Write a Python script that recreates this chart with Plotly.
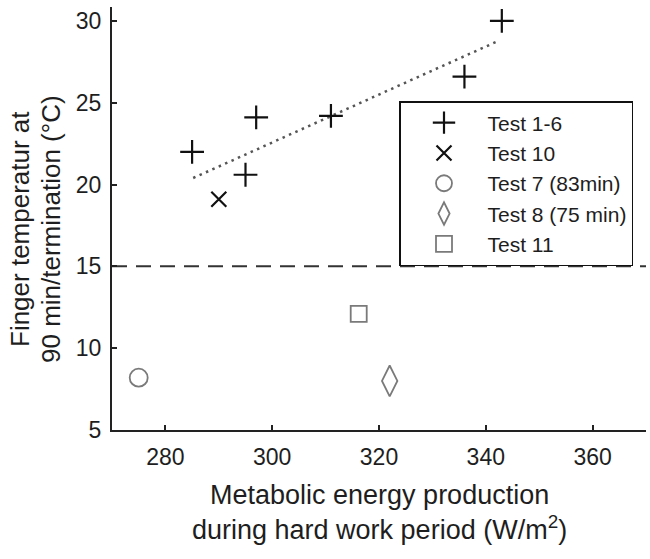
import plotly.graph_objects as go

# ---- data ----
test16_x = [285, 295, 297, 311, 336, 343]
test16_y = [22.0, 20.6, 24.1, 24.2, 26.6, 30.0]
test10_x = [290]
test10_y = [19.1]
test7_x = [275]
test7_y = [8.2]
test8_x = [322]
test8_y = [8.0]
test11_x = [316.2]
test11_y = [12.1]
trend_x = [285.2, 342.5]
trend_y = [20.4, 28.8]
threshold_y = 15
x_range = [270, 370]
y_range = [5, 30.85]
x_ticks = [280, 300, 320, 340, 360]
y_ticks = [5, 10, 15, 20, 25, 30]
x_title_lines = ["Metabolic energy production", "during hard work period (W/m<sup>2</sup>)"]
y_title_lines = ["Finger temperatur at", "90 min/termination (°C)"]

FONT = "Liberation Sans, Arial, sans-serif"
BLACK = "#111111"
GRAY = "#7a7a7a"
TXT = "#1e1e1e"

fig = go.Figure()

fig.add_trace(go.Scatter(x=trend_x, y=trend_y, mode="lines",
                         line=dict(color="#555555", width=2.5, dash="2.5px,4.5px"),
                         showlegend=False, hoverinfo="skip"))
fig.add_trace(go.Scatter(x=x_range, y=[threshold_y, threshold_y], mode="lines",
                         line=dict(color="#333333", width=2, dash="15px,9px"),
                         showlegend=False, hoverinfo="skip"))

fig.add_trace(go.Scatter(x=test16_x, y=test16_y, mode="markers", name="Test 1-6",
                         marker=dict(symbol="cross-thin-open", size=17, color=BLACK,
                                     line=dict(color=BLACK, width=2.2))))
fig.add_trace(go.Scatter(x=test10_x, y=test10_y, mode="markers", name="Test 10",
                         marker=dict(symbol="x-thin-open", size=15, color=BLACK,
                                     line=dict(color=BLACK, width=2.2))))
fig.add_trace(go.Scatter(x=test7_x, y=test7_y, mode="markers", name="Test 7 (83min)",
                         marker=dict(symbol="circle-open", size=18, color=GRAY,
                                     line=dict(color=GRAY, width=1.8))))
fig.add_trace(go.Scatter(x=test8_x, y=test8_y, mode="markers", name="Test 8 (75 min)",
                         marker=dict(symbol="diamond-tall-open", size=22, color=GRAY,
                                     line=dict(color=GRAY, width=1.8))))
fig.add_trace(go.Scatter(x=test11_x, y=test11_y, mode="markers", name="Test 11",
                         marker=dict(symbol="square-open", size=16, color=GRAY,
                                     line=dict(color=GRAY, width=1.8))))

axis_common = dict(showgrid=False, zeroline=False, showline=True, linecolor="#222222",
                   linewidth=2, ticks="inside", ticklen=5, tickwidth=1.5,
                   tickcolor="#222222", mirror=False, automargin=False,
                   tickfont=dict(family=FONT, size=23, color=TXT))

fig.update_xaxes(range=x_range, tickvals=x_ticks, ticklabelstandoff=5, **axis_common)
fig.update_yaxes(range=y_range, tickvals=y_ticks, ticklabelstandoff=4, **axis_common)

PLOT_L, PLOT_R, PLOT_T, PLOT_B = 112, 646, 7, 430
PW, PH = PLOT_R - PLOT_L, PLOT_B - PLOT_T


def px_x(px):
    return (px - PLOT_L) / PW


def px_y(py):
    return (PLOT_B - py) / PH


annotations = []
for text, cy in zip(x_title_lines, [495, 528]):
    annotations.append(dict(text=text, xref="paper", yref="paper", x=0.5, y=px_y(cy),
                            xanchor="center", yanchor="middle", showarrow=False,
                            font=dict(family=FONT, size=27, color=TXT)))
for text, cx in zip(y_title_lines, [20, 51]):
    annotations.append(dict(text=text, xref="paper", yref="paper", x=px_x(cx), y=px_y(229),
                            xanchor="center", yanchor="middle", showarrow=False, textangle=-90,
                            font=dict(family=FONT, size=26, color=TXT)))

fig.update_layout(
    width=650, height=559,
    margin=dict(l=PLOT_L, r=650 - PLOT_R, t=PLOT_T, b=559 - PLOT_B),
    paper_bgcolor="white", plot_bgcolor="white",
    font=dict(family=FONT, color=TXT),
    annotations=annotations,
    hovermode=False,
    legend=dict(x=px_x(399), xanchor="left", y=px_y(101), yanchor="top",
                bgcolor="white", bordercolor="#111111", borderwidth=1.5,
                font=dict(family=FONT, size=21, color=TXT),
                itemwidth=77, tracegroupgap=0),
)

# remove the browser's default 8px page margin so the figure sits at the window origin
fig.write_html("out.html",
               config={"displayModeBar": False, "staticPlot": False},
               post_script="document.body.style.margin='0px';document.body.style.overflow='hidden';")
